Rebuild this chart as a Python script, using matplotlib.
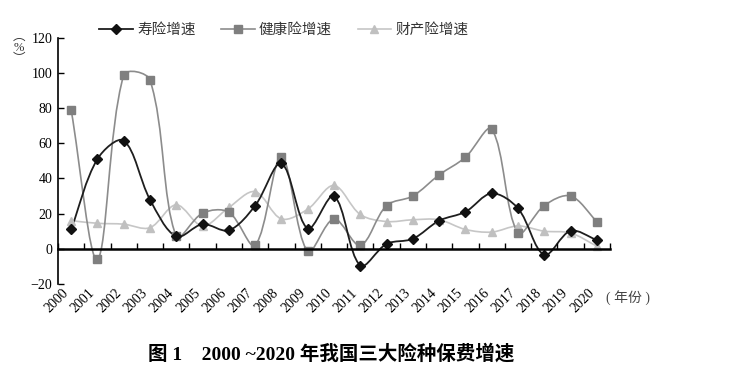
import numpy as np
import matplotlib
matplotlib.use("Agg")
import matplotlib.pyplot as plt
from matplotlib.path import Path
from matplotlib.patches import PathPatch
from matplotlib.lines import Line2D
from matplotlib.ticker import FixedLocator, NullFormatter

plt.rcParams["font.family"] = ["Liberation Serif", "Noto Sans CJK SC", "DejaVu Sans"]

years = [str(y) for y in range(2000, 2021)]
life = [11, 51, 61.5, 28, 7, 14, 10.5, 24.5, 48.5, 11.5, 30, -9.5, 2.8, 5.7, 16,
        21, 31.5, 23, -3.4, 10.2, 5]
health = [79, -6, 98.7, 96, 7, 20.3, 20.8, 2, 52.4, -1.5, 17, 2, 24.6, 30, 42,
          52, 68, 9, 24.6, 30, 15.5]
prop = [16, 14.5, 14, 12, 25, 13, 23.5, 32.5, 17, 22.5, 36, 19.5, 15.5, 16.5, 16.5,
        11, 9.5, 13, 10, 9, 1.5]
series_names = ["寿险增速", "健康险增速", "财产险增速"]
y_ticks = [-20, 0, 20, 40, 60, 80, 100, 120]


def smooth_path(ax, xs, ys):
    # excel-style smoothed line, control points worked out in pixel space
    pts = ax.transData.transform(np.column_stack([xs, ys]))
    n = len(pts)
    verts = [pts[0]]
    codes = [Path.MOVETO]
    for i in range(n - 1):
        p0, p1 = pts[i], pts[i + 1]
        prev = pts[i - 1] if i > 0 else p0
        nxt = pts[i + 2] if i + 2 < n else p1
        L = np.hypot(*(p1 - p0))
        lp = np.hypot(*(p0 - prev))
        ln = np.hypot(*(nxt - p1))
        c1 = p0 + (p1 - prev) * L / (lp + L) / 3
        c2 = p1 - (nxt - p0) * L / (L + ln) / 3
        verts += [c1, c2, p1]
        codes += [Path.CURVE4] * 3
    verts = ax.transData.inverted().transform(np.array(verts))
    return Path(verts, codes)


fig = plt.figure(figsize=(7.5, 3.75), dpi=100)
ax = fig.add_axes([0.0773, 0.2427, 0.736, 0.6568])
x = np.arange(len(years))
ax.set_xlim(-0.5, len(years) - 0.5)
ax.set_ylim(-20, 120)

styles = [
    (life, "#1e1e1e", "#111111", "D", 5.5, 1.3),
    (health, "#8c8c8c", "#7f7f7f", "s", 6, 1.2),
    (prop, "#c6c6c6", "#c0c0c0", "^", 6, 1.2),
]
for vals, lc, mc, mk, ms, lw in reversed(styles):
    ax.add_patch(PathPatch(smooth_path(ax, x, vals), fill=False, edgecolor=lc, lw=lw))
    ax.plot(x, vals, ls="none", marker=mk, ms=ms, color=mc)

for s in ["top", "right"]:
    ax.spines[s].set_visible(False)
ax.spines["bottom"].set_position(("data", 0))
ax.spines["bottom"].set_linewidth(1.8)
ax.spines["left"].set_linewidth(1.2)

ax.set_xticks(x)
ax.set_xticklabels(years, rotation=45, ha="right", va="top", fontsize=10)
ax.xaxis.set_minor_locator(FixedLocator(np.arange(-0.5, len(years), 1.0)))
ax.xaxis.set_minor_formatter(NullFormatter())
ax.tick_params(axis="x", which="major", length=0, pad=27)
ax.tick_params(axis="x", which="minor", direction="in", length=4, width=1)
ax.set_yticks(y_ticks)
ax.set_yticklabels([f"{v}".replace("-", "\u2212") for v in y_ticks], fontsize=10)
ax.tick_params(axis="y", direction="in", length=4, width=1, pad=4)

ax.text(20.35, -27.5, "( 年份 )", fontsize=10, color="#444444", ha="left", va="center",
        clip_on=False)
fig.text(19 / 750, 1 - 48 / 375, "︵\n%\n︶", fontsize=9, ha="center", va="center",
         linespacing=0.9, color="#333333")

handles = [Line2D([], [], color=lc, marker=mk, ms=ms, markerfacecolor=mc,
                  markeredgecolor=mc, lw=lw)
           for _, lc, mc, mk, ms, lw in styles]
fig.legend(handles, series_names, loc="center left", bbox_to_anchor=(86 / 750, 1 - 30 / 375),
           ncol=3, frameon=False, fontsize=10.5, handlelength=2.3, handletextpad=0.3,
           columnspacing=1.75, labelcolor="#333333")

fig.text(331 / 750, 1 - 354 / 375, "图 1    2000 ~2020 年我国三大险种保费增速",
         fontsize=14, fontweight="bold", ha="center", va="center")

fig.savefig("out.png", dpi=100)
